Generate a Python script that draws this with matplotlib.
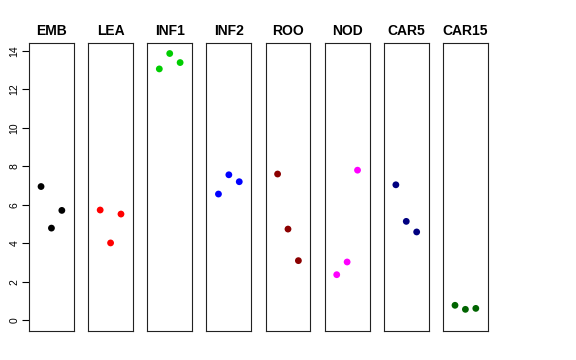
import numpy as np
import matplotlib
matplotlib.use("Agg")
import matplotlib.pyplot as plt

plt.rcParams['font.family'] = ['Liberation Sans', 'DejaVu Sans']

# tissues and their three replicate values
tissues = ['EMB', 'LEA', 'INF1', 'INF2', 'ROO', 'NOD', 'CAR5', 'CAR15']
colors = ['black', 'red', '#00CD00', 'blue', '#8B0000', 'magenta', '#000080', '#006400']
rep1 = [6.95, 5.73, 13.06, 6.56, 7.60, 2.37, 7.04, 0.78]
rep2 = [4.79, 4.02, 13.86, 7.56, 4.74, 3.03, 5.14, 0.57]
rep3 = [5.71, 5.52, 13.39, 7.20, 3.10, 7.80, 4.59, 0.62]
yticks = [0, 2, 4, 6, 8, 10, 12, 14]

fig, axes = plt.subplots(1, 8, sharey=True, figsize=(5.76, 3.6), dpi=100)
fig.subplots_adjust(left=0.0503, right=0.847, top=0.881, bottom=0.0806, wspace=0.316)

ymax = max(rep1 + rep2 + rep3)
pad = ymax * 0.04
xs = [1, 2, 3]

for i, ax in enumerate(axes):
    vals = [rep1[i], rep2[i], rep3[i]]
    ax.scatter(xs, vals, s=24, color=colors[i], edgecolors='none', zorder=3)
    ax.set_xlim(-0.16, 4.16)
    ax.set_ylim(-pad, ymax + pad)
    ax.set_xticks([])
    ax.set_title(tissues[i], fontsize=10, fontweight='bold', pad=6)
    for s in ax.spines.values():
        s.set_linewidth(0.8)
        s.set_color('#222222')
    if i == 0:
        ax.set_yticks(yticks)
        ax.tick_params(axis='y', labelsize=7.5, length=5, width=0.8, pad=2)
        for lab in ax.get_yticklabels():
            lab.set_rotation(90)
            lab.set_va('center')
    else:
        ax.tick_params(axis='y', left=False, labelleft=False)

fig.savefig('out.png')
